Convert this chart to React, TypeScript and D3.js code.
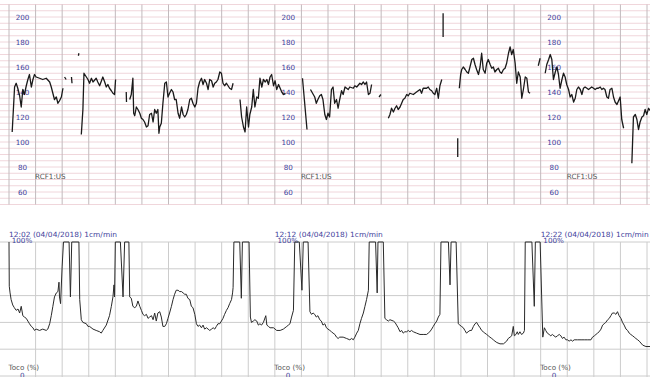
import React from "react";
import * as d3 from "d3";

const W = 650;
const H = 377;

const panelTimes = ["12:02", "12:12", "12:22"];
const panelSuffix = " (04/04/2018) 1cm/min";
const fhrTicks = [200, 180, 160, 140, 120, 100, 80, 60];
const tocoTicks = [0, 20, 40, 60, 80, 100];
const sensorLabel = "RCF1:US";

// FHR trace: [minute, bpm], null = gap
const fhr: ([number, number] | null)[] = [
  [0.12, 108], [0.21, 144], [0.27, 147], [0.33, 143], [0.40, 137], [0.46, 128], [0.52, 142], [0.58, 138], [0.65, 145],
  [0.71, 150], [0.77, 154], [0.84, 144], [0.90, 150], [0.96, 154], [1.02, 152], [1.15, 151], [1.27, 150], [1.40, 151],
  [1.53, 148], [1.59, 144], [1.65, 139], [1.71, 134], [1.78, 136], [1.84, 131], [1.90, 133], [1.97, 136], [2.03, 143], null,
  [2.09, 152], [2.15, 150], null, [2.35, 152], [2.37, 147], null, [2.61, 169], [2.63, 171], null,
  [2.72, 106], [2.78, 126], [2.82, 155], [2.91, 152], [2.97, 150], [3.03, 147], [3.10, 151], [3.16, 148], [3.28, 151],
  [3.34, 148], [3.41, 145], [3.53, 152], [3.60, 148], [3.66, 144], [3.72, 146], [3.78, 143], [3.85, 141], [3.91, 139],
  [3.97, 138], [4.01, 150], null,
  [4.41, 140], [4.42, 132], null,
  [4.54, 134], [4.60, 138], [4.66, 151], [4.69, 123], [4.73, 121], [4.79, 128], [4.85, 126], [4.92, 123], [4.98, 119],
  [5.04, 118], [5.10, 116], [5.17, 112], [5.23, 113], [5.29, 122], [5.36, 123], [5.42, 116], [5.48, 126], [5.54, 123],
  [5.60, 126], [5.64, 107], [5.67, 112], [5.73, 115], [5.79, 131], [5.86, 147], [5.92, 148], [5.98, 136], [6.04, 139],
  [6.11, 142], [6.17, 140], [6.23, 134], [6.29, 134], [6.36, 123], [6.42, 119], [6.49, 128], [6.55, 122], [6.61, 120],
  [6.67, 122], [6.73, 126], [6.80, 134], [6.86, 135], [6.92, 131], [6.99, 128], [7.05, 131], [7.11, 143], [7.17, 148],
  [7.24, 151], [7.30, 146], [7.36, 150], [7.43, 147], [7.49, 142], [7.55, 150], [7.62, 149], [7.68, 144], [7.74, 147],
  [7.80, 148], [7.86, 150], [7.93, 156], [7.99, 155], [8.05, 147], [8.11, 145], [8.18, 147], [8.24, 145], [8.30, 143],
  [8.37, 142], [8.43, 147], null,
  [8.69, 134], [8.75, 120], [8.82, 112], [8.88, 108], [8.94, 128], [9.01, 112], [9.06, 122], [9.13, 128], [9.19, 142],
  [9.25, 128], [9.32, 136], [9.38, 135], [9.44, 151], [9.51, 144], [9.57, 150], [9.64, 148], [9.70, 150], [9.76, 146],
  [9.82, 152], [9.88, 154], [9.95, 145], [10.01, 149], [10.07, 142], [10.14, 146], [10.20, 143], [10.26, 140],
  [10.33, 138], [10.40, 139], null,
  [11.04, 151], [11.21, 110], null,
  [11.34, 142], [11.42, 139], [11.50, 136], [11.56, 131], [11.62, 134], [11.69, 137], [11.75, 138], [11.81, 134],
  [11.88, 122], [11.94, 118], [12.00, 123], [12.06, 120], [12.13, 142], [12.19, 144], [12.25, 131], [12.32, 134],
  [12.38, 127], [12.44, 134], [12.51, 141], [12.57, 138], [12.64, 144], [12.70, 143], [12.76, 142], [12.82, 144],
  [12.95, 143], [13.01, 145], [13.08, 144], [13.20, 147], [13.26, 146], [13.33, 148], [13.39, 146], [13.45, 148],
  [13.52, 138], [13.58, 139], [13.64, 146], null,
  [13.92, 136], [13.99, 138], null,
  [14.27, 119], [14.33, 122], [14.39, 127], [14.46, 124], [14.52, 127], [14.58, 129], [14.64, 126], [14.71, 128],
  [14.77, 131], [14.83, 134], [14.89, 135], [14.96, 138], [15.02, 137], [15.08, 139], [15.21, 138], [15.33, 140],
  [15.46, 142], [15.52, 139], [15.58, 143], [15.71, 143], [15.77, 144], [15.83, 142], [15.90, 141], [15.96, 139],
  [16.02, 138], [16.09, 143], [16.15, 135], [16.21, 145], [16.28, 150], null,
  [16.33, 203], [16.33, 184], null,
  [16.88, 103], [16.88, 88], null,
  [16.94, 143], [16.99, 154], [17.03, 158], [17.09, 160], [17.16, 158], [17.22, 156], [17.28, 155], [17.34, 160],
  [17.41, 166], [17.47, 167], [17.53, 162], [17.59, 158], [17.66, 154], [17.72, 160], [17.78, 171], [17.84, 158],
  [17.91, 155], [17.97, 163], [18.03, 166], [18.10, 162], [18.16, 159], [18.22, 160], [18.28, 156], [18.35, 158],
  [18.41, 159], [18.47, 156], [18.53, 155], [18.60, 158], [18.66, 159], [18.72, 163], [18.79, 171], [18.85, 176],
  [18.91, 170], [18.97, 174], [19.04, 163], [19.10, 147], [19.16, 156], [19.23, 152], [19.29, 135], [19.35, 142],
  [19.42, 152], [19.48, 151], [19.54, 140], [19.60, 139], null,
  [19.91, 161], [19.98, 167], null,
  [20.17, 155], [20.23, 162], [20.30, 166], [20.36, 170], [20.42, 166], [20.48, 150], [20.55, 156], [20.61, 160],
  [20.67, 154], [20.73, 143], [20.80, 150], [20.86, 155], [20.92, 152], [20.98, 146], [21.05, 142], [21.11, 136],
  [21.17, 138], [21.24, 132], [21.30, 135], [21.36, 142], [21.42, 144], [21.49, 142], [21.55, 138], [21.61, 143],
  [21.67, 144], [21.74, 143], [21.80, 142], [21.86, 143], [21.92, 144], [21.99, 143], [22.05, 142], [22.11, 143],
  [22.17, 143], [22.24, 144], [22.30, 142], [22.36, 143], [22.42, 142], [22.49, 136], [22.55, 135], [22.61, 142],
  [22.68, 143], [22.74, 136], [22.80, 132], [22.87, 130], [22.93, 133], [22.99, 136], [23.05, 118], [23.12, 111], null,
  [23.43, 83], [23.49, 120], [23.56, 122], [23.62, 118], [23.68, 110], [23.74, 116], [23.81, 120], [23.87, 121],
  [23.93, 126], [23.99, 122], [24.06, 127], [24.12, 125],
];

// Toco trace: [minute, %]
const toco: [number, number][] = [
  [0.00, 100], [0.01, 67], [0.04, 62], [0.08, 57], [0.14, 53], [0.20, 51], [0.27, 49], [0.34, 50], [0.40, 47], [0.46, 52],
  [0.52, 45], [0.58, 44], [0.65, 43], [0.71, 41], [0.77, 39], [0.84, 37], [0.90, 36], [0.96, 34], [1.02, 35], [1.15, 34],
  [1.27, 35], [1.40, 34], [1.46, 35], [1.53, 39], [1.59, 45], [1.65, 52], [1.71, 59], [1.78, 62], [1.84, 63], [1.88, 70],
  [1.90, 59], [1.94, 54], [2.00, 82], [2.05, 100], [2.26, 100], [2.31, 59], [2.36, 100], [2.63, 100], [2.66, 57],
  [2.72, 42], [2.78, 40], [2.91, 39], [2.97, 37], [3.03, 37], [3.16, 35], [3.28, 34], [3.41, 33], [3.47, 32], [3.53, 34],
  [3.66, 38], [3.78, 45], [3.85, 52], [3.91, 59], [3.95, 68], [3.97, 59], [4.00, 100], [4.19, 100], [4.29, 59],
  [4.35, 100], [4.51, 100], [4.54, 59], [4.60, 58], [4.66, 52], [4.73, 51], [4.79, 52], [4.85, 56], [4.92, 52],
  [4.98, 49], [5.04, 46], [5.10, 45], [5.17, 46], [5.23, 43], [5.29, 44], [5.36, 45], [5.42, 42], [5.48, 47], [5.54, 41],
  [5.60, 47], [5.67, 48], [5.73, 44], [5.79, 37], [5.86, 37], [5.92, 39], [5.98, 43], [6.04, 47], [6.11, 52], [6.17, 57],
  [6.23, 61], [6.29, 64], [6.36, 64], [6.42, 63], [6.49, 63], [6.55, 62], [6.61, 61], [6.67, 61], [6.73, 58], [6.80, 57],
  [6.86, 52], [6.92, 51], [6.99, 46], [7.05, 39], [7.11, 37], [7.17, 38], [7.24, 36], [7.30, 38], [7.36, 35], [7.43, 36],
  [7.49, 35], [7.55, 34], [7.62, 35], [7.68, 36], [7.74, 35], [7.80, 37], [7.86, 39], [7.93, 39], [8.05, 43], [8.11, 46],
  [8.18, 49], [8.24, 51], [8.30, 54], [8.37, 57], [8.41, 62], [8.43, 66], [8.46, 100], [8.68, 100], [8.74, 58],
  [8.78, 100], [9.03, 100], [9.08, 44], [9.12, 40], [9.19, 41], [9.25, 42], [9.32, 41], [9.38, 38], [9.44, 39],
  [9.50, 38], [9.57, 40], [9.66, 45], [9.70, 38], [9.76, 37], [9.82, 36], [9.95, 36], [10.07, 34], [10.20, 34],
  [10.32, 35], [10.45, 37], [10.51, 38], [10.57, 39], [10.63, 44], [10.70, 49], [10.75, 100], [10.92, 100], [11.02, 64],
  [11.07, 100], [11.25, 100], [11.32, 48], [11.38, 46], [11.44, 47], [11.50, 46], [11.56, 44], [11.62, 45], [11.69, 42],
  [11.75, 41], [11.81, 38], [11.88, 39], [11.94, 36], [12.00, 35], [12.07, 34], [12.13, 33], [12.19, 32], [12.26, 31],
  [12.32, 29], [12.38, 28], [12.44, 29], [12.57, 29], [12.70, 28], [12.82, 27], [12.89, 28], [12.95, 27], [13.01, 29],
  [13.08, 32], [13.14, 34], [13.20, 39], [13.26, 43], [13.33, 47], [13.39, 52], [13.45, 57], [13.52, 64], [13.55, 100],
  [13.79, 100], [13.85, 62], [13.88, 100], [14.08, 100], [14.14, 43], [14.20, 42], [14.27, 41], [14.33, 42], [14.46, 41],
  [14.52, 40], [14.58, 38], [14.64, 36], [14.71, 33], [14.77, 34], [14.83, 32], [14.89, 33], [14.96, 33], [15.02, 34],
  [15.08, 33], [15.14, 34], [15.21, 33], [15.33, 32], [15.46, 31], [15.58, 31], [15.71, 31], [15.77, 32], [15.83, 33],
  [15.90, 35], [15.96, 37], [16.02, 39], [16.09, 41], [16.15, 44], [16.21, 46], [16.25, 100], [16.53, 100], [16.59, 68],
  [16.63, 100], [16.82, 100], [16.90, 39], [16.96, 38], [17.02, 37], [17.09, 36], [17.15, 34], [17.21, 32], [17.27, 33],
  [17.34, 34], [17.40, 34], [17.47, 37], [17.53, 39], [17.59, 40], [17.65, 38], [17.72, 36], [17.78, 34], [17.84, 33],
  [17.90, 32], [17.97, 31], [18.03, 30], [18.09, 29], [18.16, 28], [18.22, 27], [18.28, 26], [18.35, 25], [18.47, 24],
  [18.60, 24], [18.66, 25], [18.72, 26], [18.78, 28], [18.85, 29], [18.91, 30], [18.97, 37], [19.01, 30], [19.07, 31],
  [19.12, 33], [19.16, 31], [19.22, 33], [19.28, 31], [19.35, 32], [19.39, 34], [19.42, 100], [19.67, 100], [19.76, 52],
  [19.80, 100], [19.98, 100], [20.08, 29], [20.14, 36], [20.19, 34], [20.25, 32], [20.32, 31], [20.38, 30], [20.44, 31],
  [20.50, 30], [20.57, 29], [20.63, 30], [20.70, 31], [20.76, 30], [20.82, 28], [20.88, 29], [20.95, 27], [21.01, 27],
  [21.07, 26], [21.14, 27], [21.20, 26], [21.26, 27], [21.39, 27], [21.52, 27], [21.64, 27], [21.77, 27], [21.89, 27],
  [21.95, 29], [22.02, 30], [22.08, 31], [22.14, 32], [22.20, 33], [22.27, 35], [22.33, 38], [22.39, 39], [22.45, 40],
  [22.52, 42], [22.58, 43], [22.64, 45], [22.70, 47], [22.77, 47], [22.83, 46], [22.89, 48], [22.95, 45], [23.02, 43],
  [23.08, 40], [23.14, 38], [23.21, 35], [23.27, 34], [23.33, 32], [23.39, 31], [23.46, 30], [23.52, 29], [23.58, 28],
  [23.65, 27], [23.71, 26], [23.84, 23], [23.96, 22], [24.13, 22],
];

const FONT = "'DejaVu Sans', Verdana, sans-serif";
const BLUE = "#3f3f9c";

export default function App() {
  const x = d3.scaleLinear().domain([0, 24]).range([9, 647]);
  const yF = d3.scaleLinear().domain([50, 210]).range([204.5, 4.5]);
  const yT = d3.scaleLinear().domain([0, 100]).range([376, 242]);

  const minutes = d3.range(0, 25);
  const fhrGrid = d3.range(50, 211, 5);

  const fhrLine = d3
    .line<[number, number] | null>()
    .defined((d) => d !== null)
    .x((d) => x((d as [number, number])[0]))
    .y((d) => yF((d as [number, number])[1]));
  const tocoLine = d3
    .line<[number, number]>()
    .x((d) => x(d[0]))
    .y((d) => yT(d[1]));

  return (
    <div style={{ position: "fixed", left: 0, top: 0, width: W, height: H, background: "#fff" }}>
      <svg width={W} height={H} style={{ display: "block" }}>
        <rect x={0} y={0} width={W} height={H} fill="#fff" />
        {/* FHR grid */}
        {fhrGrid.map((v) => (
          <line key={"fh" + v} x1={0} x2={W} y1={yF(v)} y2={yF(v)} stroke="#f0d6db" strokeWidth={1} />
        ))}
        {minutes.map((m) => (
          <line key={"fv" + m} x1={x(m)} x2={x(m)} y1={yF(210)} y2={yF(50)} stroke="#c2babd" strokeWidth={1} />
        ))}
        {/* Toco grid */}
        {tocoTicks.map((v) => (
          <line key={"th" + v} x1={0} x2={W} y1={yT(v)} y2={yT(v)} stroke="#cccccc" strokeWidth={1} />
        ))}
        {minutes.filter((m) => m > 0).map((m) => (
          <line key={"tv" + m} x1={x(m)} x2={x(m)} y1={yT(100)} y2={H} stroke="#cccccc" strokeWidth={1} />
        ))}

        {/* Panel labels */}
        {panelTimes.map((t, i) => {
          const x0 = x(i * 10);
          return (
            <g key={t} fontFamily={FONT}>
              {fhrTicks.map((v) => (
                <text key={v} x={x0 + 13.5} y={yF(v)} dy="0.35em" textAnchor="middle" fontSize={7.2} fill={BLUE}>
                  {v}
                </text>
              ))}
              <text x={x(i * 10 + 1) - 0.5} y={179} fontSize={7.2} fill="#555">
                {sensorLabel}
              </text>
              <text x={x0} y={236.5} fontSize={7.2} fill={BLUE} textLength={108} lengthAdjust="spacingAndGlyphs">
                {t + panelSuffix}
              </text>
              <text x={x0 + 2.7} y={243} fontSize={7.2} fill={BLUE}>
                100%
              </text>
              <text x={x0 - 0.5} y={370} fontSize={7.2} fill="#555">
                Toco (%)
              </text>
              <text x={x0 + 11} y={378} fontSize={7.2} fill={BLUE}>
                0
              </text>
            </g>
          );
        })}

        {/* Traces */}
        <path d={fhrLine(fhr) || ""} fill="none" stroke="#1a1a1a" strokeWidth={1.3} strokeLinejoin="round" />
        <path d={tocoLine(toco) || ""} fill="none" stroke="#2a2a2a" strokeWidth={1} strokeLinejoin="round" />
      </svg>
    </div>
  );
}
